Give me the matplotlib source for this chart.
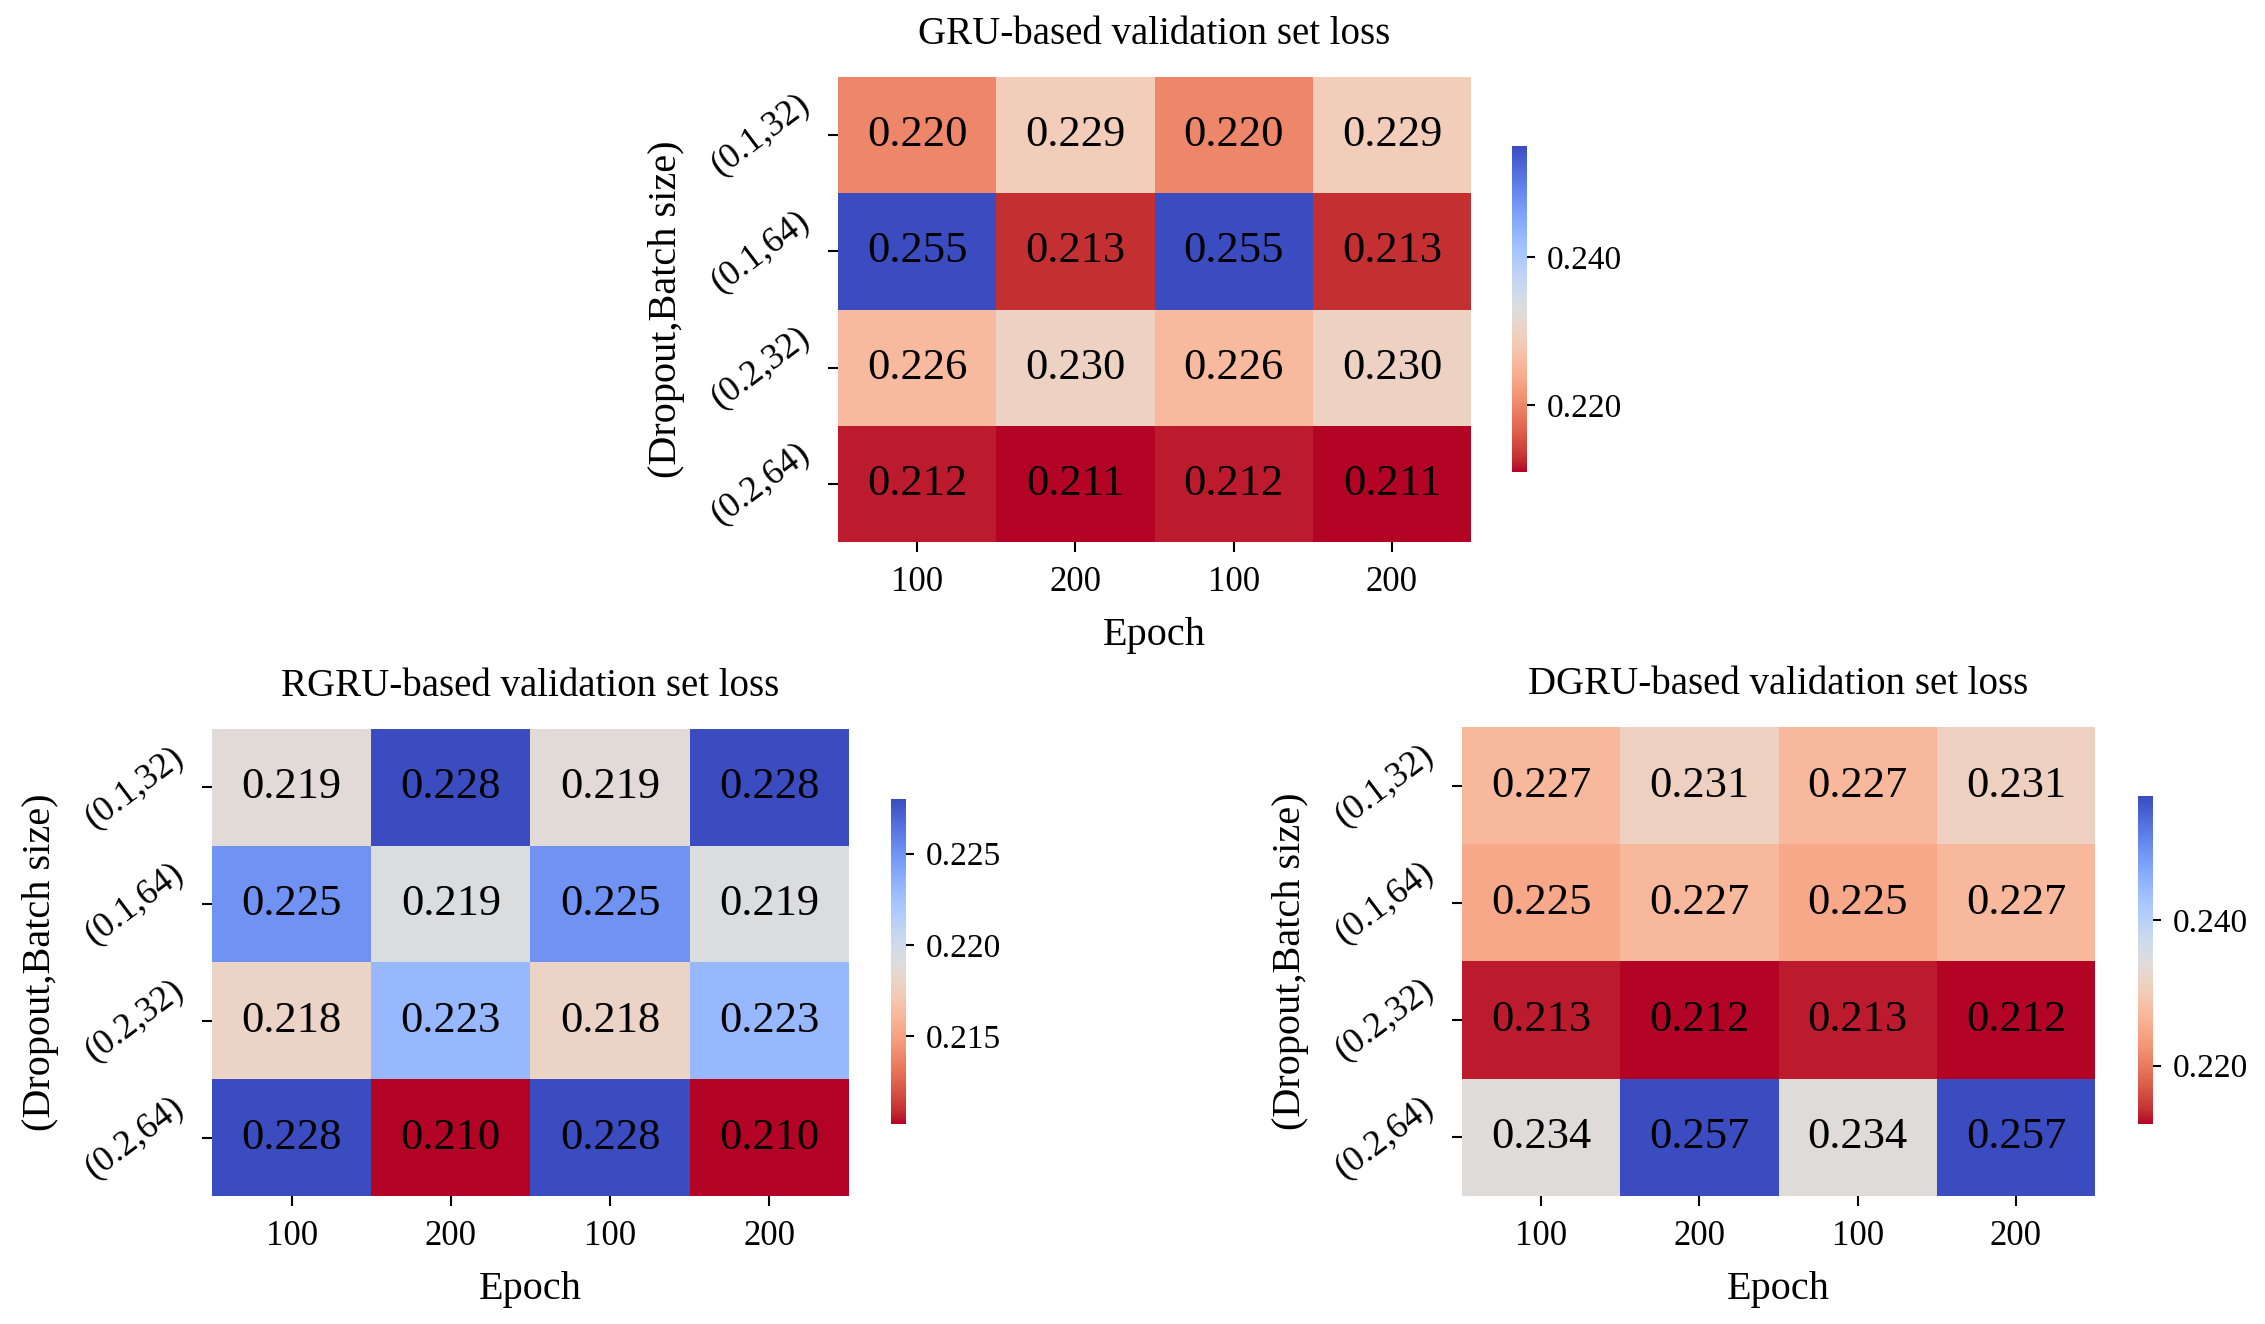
import numpy as np
import matplotlib
matplotlib.use("Agg")
import matplotlib.pyplot as plt
import seaborn as sns

plt.rcParams['font.family'] = ['Liberation Serif', 'DejaVu Serif']

epochs = ["100", "200", "100", "200"]
configs = ["(0.1,32)", "(0.1,64)", "(0.2,32)", "(0.2,64)"]

gru_loss = [[0.220, 0.229, 0.220, 0.229],
            [0.255, 0.213, 0.255, 0.213],
            [0.226, 0.230, 0.226, 0.230],
            [0.212, 0.211, 0.212, 0.211]]

rgru_loss = [[0.2188, 0.228, 0.2188, 0.228],
             [0.225, 0.2192, 0.225, 0.2192],
             [0.218, 0.223, 0.218, 0.223],
             [0.228, 0.2102, 0.228, 0.2102]]

dgru_loss = [[0.227, 0.231, 0.227, 0.231],
             [0.225, 0.227, 0.225, 0.227],
             [0.213, 0.212, 0.213, 0.212],
             [0.234, 0.257, 0.234, 0.257]]

gru_ticks = [0.220, 0.240]
rgru_ticks = [0.215, 0.220, 0.225]
dgru_ticks = [0.220, 0.240]


def draw_heatmap(fig, ax_rect, cbar_rect, data, title, cticks):
    ax = fig.add_axes(ax_rect)
    cax = fig.add_axes(cbar_rect)
    sns.heatmap(np.array(data), ax=ax, cbar_ax=cax, cmap='coolwarm_r',
                annot=True, fmt='.3f', annot_kws={'fontsize': 32, 'color': 'black'},
                xticklabels=epochs, yticklabels=configs)
    ax.set_title(title, fontsize=28, pad=24)
    ax.set_xlabel('Epoch', fontsize=29, labelpad=13)
    ax.set_ylabel('(Dropout,Batch size)', fontsize=29, labelpad=14)
    ax.tick_params(axis='x', length=7, width=1.5, labelsize=25, pad=10)
    ax.tick_params(axis='y', length=7, width=1.5, labelsize=26, pad=9)
    for lab in ax.get_yticklabels():
        lab.set_rotation(37)
        lab.set_ha('right')
        lab.set_va('center')
    for lab in ax.get_xticklabels():
        lab.set_rotation(0)
    cax.set_yticks(cticks)
    cax.set_yticklabels([f'{t:.3f}' for t in cticks])
    cax.tick_params(length=6, width=1.5, labelsize=24, pad=8)
    for s in cax.spines.values():
        s.set_visible(False)
    return ax


fig = plt.figure(figsize=(22.65, 13.24), dpi=100)

draw_heatmap(fig, [0.370, 0.5906, 0.2795, 0.3512], [0.6675, 0.6435, 0.0066, 0.2462],
             gru_loss, 'GRU-based validation set loss', gru_ticks)
draw_heatmap(fig, [0.0936, 0.0967, 0.2812, 0.3527], [0.3934, 0.1511, 0.0066, 0.2455],
             rgru_loss, 'RGRU-based validation set loss', rgru_ticks)
draw_heatmap(fig, [0.6455, 0.0967, 0.2795, 0.3542], [0.9439, 0.1511, 0.0066, 0.2477],
             dgru_loss, 'DGRU-based validation set loss', dgru_ticks)

fig.savefig('out.png', dpi=100, facecolor='white')
